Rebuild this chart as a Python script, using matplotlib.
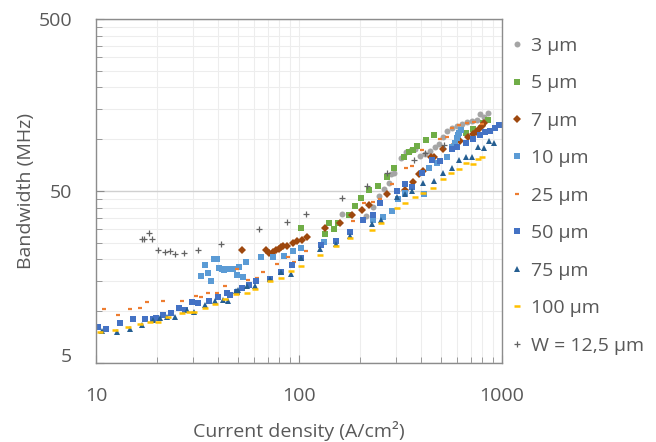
import matplotlib
matplotlib.use("Agg")
import matplotlib.pyplot as plt
import matplotlib.transforms as mtransforms
from matplotlib.ticker import FixedLocator, NullFormatter

# current density (A/cm2) and bandwidth (MHz) per mesa width
um3_x = [162, 215, 231, 247, 262, 277, 283, 294, 317, 337, 355, 374, 394, 418, 442, 466, 488, 510, 538, 569,
         603, 638, 675, 714, 750, 779, 818, 850]
um3_y = [36.9, 35.8, 40.5, 46.8, 51.1, 55.4, 62.8, 63.9, 77.4, 84.6, 86.5, 88.1, 79.9, 82.0, 85.8, 89.7, 93.8,
         102.5, 112.1, 115.7, 119.4, 122.6, 125.9, 128.2, 129.4, 139.5, 135.2, 141.4]

um5_x = [102, 134, 141, 148, 155, 177, 189, 201, 221, 246, 270, 295, 331, 350, 366, 383, 422, 462, 665, 722, 803, 856]
um5_y = [30.6, 28.0, 32.4, 30.2, 32.4, 36.1, 41.1, 45.3, 50.7, 53.7, 60.6, 67.7, 79.2, 84.6, 86.5, 91.7, 99.0,
         105.8, 108.2, 114.2, 124.8, 129.4]

um7_x = [52.2, 68.5, 71.2, 74.2, 77.1, 79.4, 81.2, 83.7, 86.9, 93.1, 98.1, 103, 110, 135, 159, 182, 204, 222, 270,
         333, 366, 390, 410, 445, 464, 514, 576, 621, 683, 717, 745, 771, 794, 818]
um7_y = [22.7, 22.7, 21.7, 22.2, 22.7, 23.0, 23.7, 23.9, 24.0, 25.0, 25.7, 25.9, 26.9, 30.3, 32.4, 36.2, 38.8, 41.5,
         47.8, 50.7, 56.6, 62.8, 65.6, 78.5, 79.2, 87.3, 91.7, 97.2, 102.5, 106.8, 110.7, 114.2, 119.4, 123.7]

um10_x = [32.9, 34.4, 35.8, 36.9, 38.1, 39.3, 40.5, 41.6, 42.9, 44.9, 47.1, 49.3, 50.6, 53.2, 54.8, 65.0, 74.7,
          84.7, 93.1, 101.9, 132.8, 178, 232, 258, 286, 308, 333, 414, 439, 477, 534, 565, 587, 598, 607, 616, 626]
um10_y = [16.1, 18.6, 16.6, 14.9, 20.2, 20.0, 17.9, 17.5, 17.4, 17.5, 17.7, 16.2, 18.1, 15.9, 19.3, 20.7, 20.8,
          21.0, 22.4, 23.4, 25.4, 28.8, 33.9, 35.5, 38.3, 44.7, 48.5, 48.0, 67.7, 72.4, 79.2, 90.5, 95.5, 101.2,
          105.8, 109.2, 113.1]

um25_x = [10.9, 12.8, 14.7, 16.4, 17.9, 21.5, 26.4, 31.0, 33.0, 35.8, 39.6, 43.4, 49.7, 55.8, 61.9, 66.7, 77.6,
          87.9, 94.4, 108.3, 185, 209, 232, 252, 286, 337, 362, 405, 495, 534, 565, 616, 670, 728, 794]
um25_y = [10.3, 9.5, 10.3, 10.4, 11.3, 11.5, 11.4, 12.3, 12.1, 12.8, 12.7, 14.1, 17.5, 15.2, 15.5, 16.8, 18.8,
          20.6, 19.4, 22.5, 33.6, 42.4, 43.3, 44.9, 54.7, 67.7, 70.2, 86.5, 100.3, 103.5, 115.7, 121, 123.7,
          126.5, 122.6]

um50_x = [10.2, 11.2, 13.2, 15.3, 17.5, 19.2, 19.7, 21.5, 23.5, 25.7, 27.4, 29.6, 31.9, 36.0, 40.1, 44.0, 45.7,
          49.3, 52.2, 56.7, 61.2, 72.0, 81.5, 92.0, 101.9, 128, 153, 178, 206, 231, 252, 305, 333, 359, 402, 450,
          495, 565, 598, 665, 722, 779, 825, 873, 924, 970]
um50_y = [8.13, 7.88, 8.50, 9.06, 9.04, 8.97, 9.09, 9.5, 9.77, 10.5, 10.1, 11.3, 11.1, 11.4, 12.1, 12.7, 12.5,
          13.0, 13.6, 14.2, 14.9, 15.3, 16.8, 18.6, 20.3, 24.3, 25.7, 28.8, 33.9, 36.2, 42.8, 49.7, 54.7, 53.0,
          63.4, 75.7, 74.7, 87.3, 90.5, 95.5, 99.9, 105.8, 110.7, 111.6, 115.7, 121]

um75_x = [10.66, 12.7, 14.7, 16.8, 19.0, 20.7, 22.3, 24.5, 28.0, 30.5, 34.4, 38.6, 42.4, 44.9, 48.8, 50.2, 55.7,
          60.7, 72.0, 81.5, 91.3, 101.9, 127, 153, 178, 230, 255, 305, 333, 359, 410, 462, 510, 565, 614, 665,
          709, 764, 815, 866, 913]
um75_y = [7.67, 7.60, 7.85, 8.31, 8.89, 9.09, 9.30, 9.30, 10.1, 9.94, 10.9, 11.5, 11.7, 11.5, 13.1, 13.3, 14.0,
          14.0, 15.3, 16.9, 16.5, 20.3, 22.9, 24.5, 27.5, 32.0, 33.9, 45.9, 47.8, 49.7, 55.9, 57.4, 64.0, 67.7,
          75.7, 79.2, 79.2, 90.5, 89.3, 97.6, 94.7]

um100_x = [10.46, 12.4, 14.3, 16.4, 18.5, 20.3, 22.7, 26.4, 28.8, 30.4, 34.4, 38.6, 43.2, 49.0, 55.7, 60.7, 72.0,
           81.5, 91.3, 101.9, 127, 153, 178, 230, 255, 305, 333, 373, 410, 459, 510, 561, 614, 665, 717, 764, 794]
um100_y = [7.54, 7.78, 8.06, 8.43, 8.70, 8.70, 9.22, 9.72, 9.85, 9.85, 10.5, 11.0, 11.8, 12.6, 12.7, 13.4, 14.9,
           15.7, 17.2, 18.4, 21.2, 23.9, 26.5, 29.7, 32.7, 39.6, 42.4, 46.3, 48.9, 52.3, 59.0, 63.4, 66.8, 72.4,
           71.5, 76.4, 78.5]

w125_x = [16.8, 17.3, 18.2, 18.8, 20.3, 21.9, 23.1, 24.5, 27.1, 31.9, 41.3, 63.8, 86.9, 108, 162, 216, 270, 369,
          418, 520]
w125_y = [26.3, 26.3, 28.4, 26.4, 22.7, 22.0, 22.5, 21.5, 21.7, 22.7, 24.5, 29.9, 32.9, 36.6, 45.5, 53.5, 63.4,
          75.4, 82.8, 92.2]

x_ticks = [10, 100, 1000]
y_ticks = [5, 50, 500]

text_col = '#595959'
plt.rcParams['font.family'] = ['Open Sans', 'DejaVu Sans']
plt.rcParams['font.size'] = 14

fig = plt.figure(figsize=(6.56, 4.42), dpi=100)
ax = fig.add_axes([0.1463, 0.1787, 0.6189, 0.7783])

# (x, y, label, marker, color, size, edge width)
series = [
    (um3_x, um3_y, '3 µm', 'o', '#a5a5a5', 4.3, 0),
    (um5_x, um5_y, '5 µm', 's', '#70ad47', 4.0, 0),
    (um7_x, um7_y, '7 µm', 'D', '#9e480e', 3.6, 0),
    (um10_x, um10_y, '10 µm', 's', '#5b9bd5', 4.0, 0),
    (um25_x, um25_y, '25 µm', '_', '#ed7d31', 3.2, 1.6),
    (um50_x, um50_y, '50 µm', 's', '#4472c4', 4.0, 0),
    (um75_x, um75_y, '75 µm', '^', '#255e91', 4.2, 0),
    (um100_x, um100_y, '100 µm', '_', '#ffc000', 4.6, 1.8),
    (w125_x, w125_y, 'W = 12,5 µm', '+', '#636363', 4.2, 0.9),
]

for xs, ys, lab, mk, col, ms, mew in series:
    ax.plot(xs, ys, linestyle='none', marker=mk, color=col, markersize=ms,
            markeredgewidth=mew, label=lab)

ax.set_xscale('log')
ax.set_yscale('log')
ax.set_xlim(10, 1000)
ax.set_ylim(5, 500)

ax.xaxis.set_major_locator(FixedLocator(x_ticks))
ax.yaxis.set_major_locator(FixedLocator(y_ticks))
ax.set_xticklabels([str(v) for v in x_ticks])
ax.set_yticklabels([str(v) for v in y_ticks])
x_minor = [k * d for d in (10, 100) for k in range(2, 10)]
y_minor = [k * 5 for k in range(2, 10)] + [k * 50 for k in range(2, 10)]
ax.xaxis.set_minor_locator(FixedLocator(x_minor))
ax.yaxis.set_minor_locator(FixedLocator(y_minor))
ax.xaxis.set_minor_formatter(NullFormatter())
ax.yaxis.set_minor_formatter(NullFormatter())

ax.grid(which='minor', color='#ededed', linewidth=0.8)
ax.grid(which='major', axis='x', color='#ededed', linewidth=0.8)
ax.grid(which='major', axis='y', color='#d0d0d0', linewidth=1.0)
ax.set_axisbelow(True)

for sp in ax.spines.values():
    sp.set_color('#8c8c8c')
    sp.set_linewidth(1.0)

ax.tick_params(which='both', direction='in', color='#8c8c8c', labelcolor=text_col,
               top=False, right=False)
ax.tick_params(which='major', length=6, pad=17)
ax.tick_params(which='minor', length=4.5)

# lift the bottom "5" a little off the x axis
fig.canvas.draw()
lab5 = ax.yaxis.get_majorticklabels()[0]
lab5.set_transform(lab5.get_transform() + mtransforms.ScaledTranslation(0, 8 / 100, fig.dpi_scale_trans))

ax.set_xlabel('Current density (A/cm²)', color=text_col, labelpad=12)
ax.set_ylabel('Bandwidth (MHz)', color=text_col, labelpad=3)

fig.legend(loc='upper left', bbox_to_anchor=(0.764, 0.934), frameon=False,
           handlelength=0.8, handletextpad=0.35, labelspacing=1.0,
           labelcolor=text_col, borderaxespad=0)

fig.savefig('out.png', dpi=100)
